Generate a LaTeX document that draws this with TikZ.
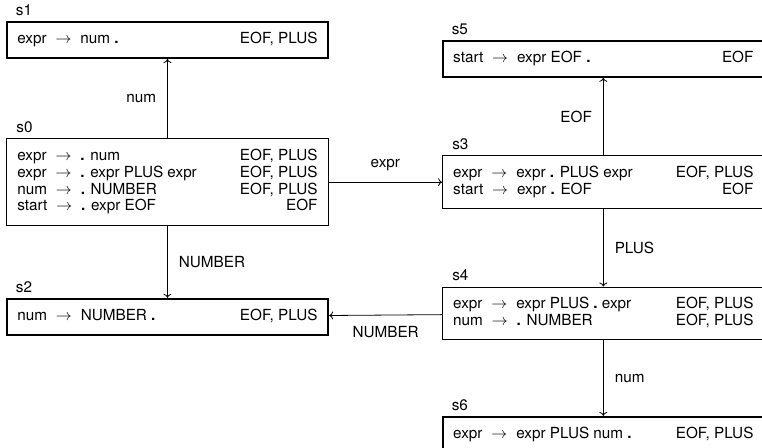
\documentclass[tikz,border=0pt]{standalone}
\usepackage{fontspec}
\setmainfont{TeX Gyre Heros}
\usetikzlibrary{positioning}
\usetikzlibrary{arrows.meta}

% item rows: production on the left, lookahead flushed right
\newcommand{\itemrows}[1]{\begin{tabular*}{226pt}{@{}l@{\extracolsep{\fill}}r@{}}#1\end{tabular*}}
\newcommand{\dotm}{\textbf{.}}
\newcommand{\goesto}{\hspace{3.5pt}$\rightarrow$\hspace{3.5pt}}

\begin{document}
\begin{tikzpicture}[
    font=\fontsize{11.5}{12.75}\selectfont,
    lrstate/.style={rectangle, draw=black, fill=white, line width=0.75pt, inner xsep=8pt, inner ysep=7.1pt,
        label={[anchor=south west, inner sep=0pt, xshift=7.5pt, yshift=4pt]north west:#1}},
    reduce/.style={line width=1.5pt},
    trans/.style={-{To[length=3pt, width=6pt]}, line width=0.6pt},
]
    \useasboundingbox (0,0) rectangle (20.16,-11.83);

    \node[lrstate=s0] (S0) at (4.43,-4.82) {\itemrows{
        expr \goesto{} \dotm{} num & EOF, PLUS\\
        expr \goesto{} \dotm{} expr PLUS expr & EOF, PLUS\\
        num \goesto{} \dotm{} NUMBER & EOF, PLUS\\
        start \goesto{} \dotm{} expr EOF & EOF}};
    \node[lrstate=s1, reduce] (S1) [above=2.1cm of S0] {\itemrows{
        expr \goesto{} num \dotm & EOF, PLUS}};
    \node[lrstate=s2, reduce] (S2) [below=1.9cm of S0] {\itemrows{
        num \goesto{} NUMBER \dotm & EOF, PLUS}};

    \node[lrstate=s3] (S3) [right=3.0cm of S0] {\itemrows{
        expr \goesto{} expr \dotm{} PLUS expr & EOF, PLUS\\
        start \goesto{} expr \dotm{} EOF & EOF}};
    \node[lrstate=s5, reduce] (S5) [above=2.05cm of S3] {\itemrows{
        start \goesto{} expr EOF \dotm & EOF}};
    \node[lrstate=s4] (S4) [below=2.05cm of S3] {\itemrows{
        expr \goesto{} expr PLUS \dotm{} expr & EOF, PLUS\\
        num \goesto{} \dotm{} NUMBER & EOF, PLUS}};
    \node[lrstate=s6, reduce] (S6) [below=2.0cm of S4] {\itemrows{
        expr \goesto{} expr PLUS num \dotm & EOF, PLUS}};

    \draw[trans] (S0) -- node[left=5pt] {num} (S1);
    \draw[trans] (S0) -- node[right=5pt] {NUMBER} (S2);
    \draw[trans] (S0) -- node[above=5pt] {expr} (S3);
    \draw[trans] (S3) -- node[left=5pt] {EOF} (S5);
    \draw[trans] (S3) -- node[right=5pt] {PLUS} (S4);
    \draw[trans] (S4) -- node[right=5pt] {num} (S6);
    \draw[trans] (S4) -- node[below=5pt] {NUMBER} (S2);

\end{tikzpicture}
\end{document}
